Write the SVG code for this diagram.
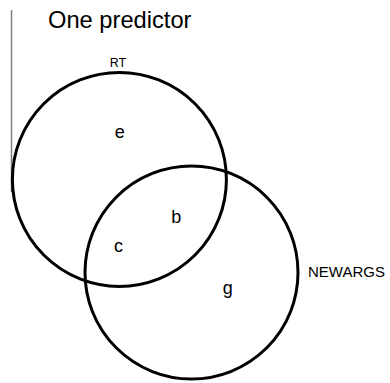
<svg xmlns="http://www.w3.org/2000/svg" width="390" height="383" viewBox="0 0 390 383">
<style>
text { font-family: "Liberation Sans", Arial, sans-serif; fill: #000; }
.set { fill: none; stroke: #000; stroke-width: 3; }
.lbl { font-size: 18px; text-anchor: middle; }
</style>
<rect width="390" height="383" fill="#fff"/>
<line x1="11.5" y1="10" x2="11.5" y2="192" stroke="#808080" stroke-width="1.5"/>
<text x="48" y="28" font-size="23.7">One predictor</text>
<g id="RT">
<circle class="set" cx="119.4" cy="179.4" r="107"/>
<text x="118" y="66.7" font-size="12.5" text-anchor="middle">RT</text>
</g>
<g id="NEWARGS">
<circle class="set" cx="191.5" cy="272.5" r="106.5"/>
<text x="308" y="276.7" font-size="15">NEWARGS</text>
</g>
<g id="regions">
<text class="lbl" x="119.7" y="137.5">e</text>
<text class="lbl" x="176.3" y="223">b</text>
<text class="lbl" x="118.5" y="252">c</text>
<text class="lbl" x="227.7" y="293.5">g</text>
</g>
</svg>
